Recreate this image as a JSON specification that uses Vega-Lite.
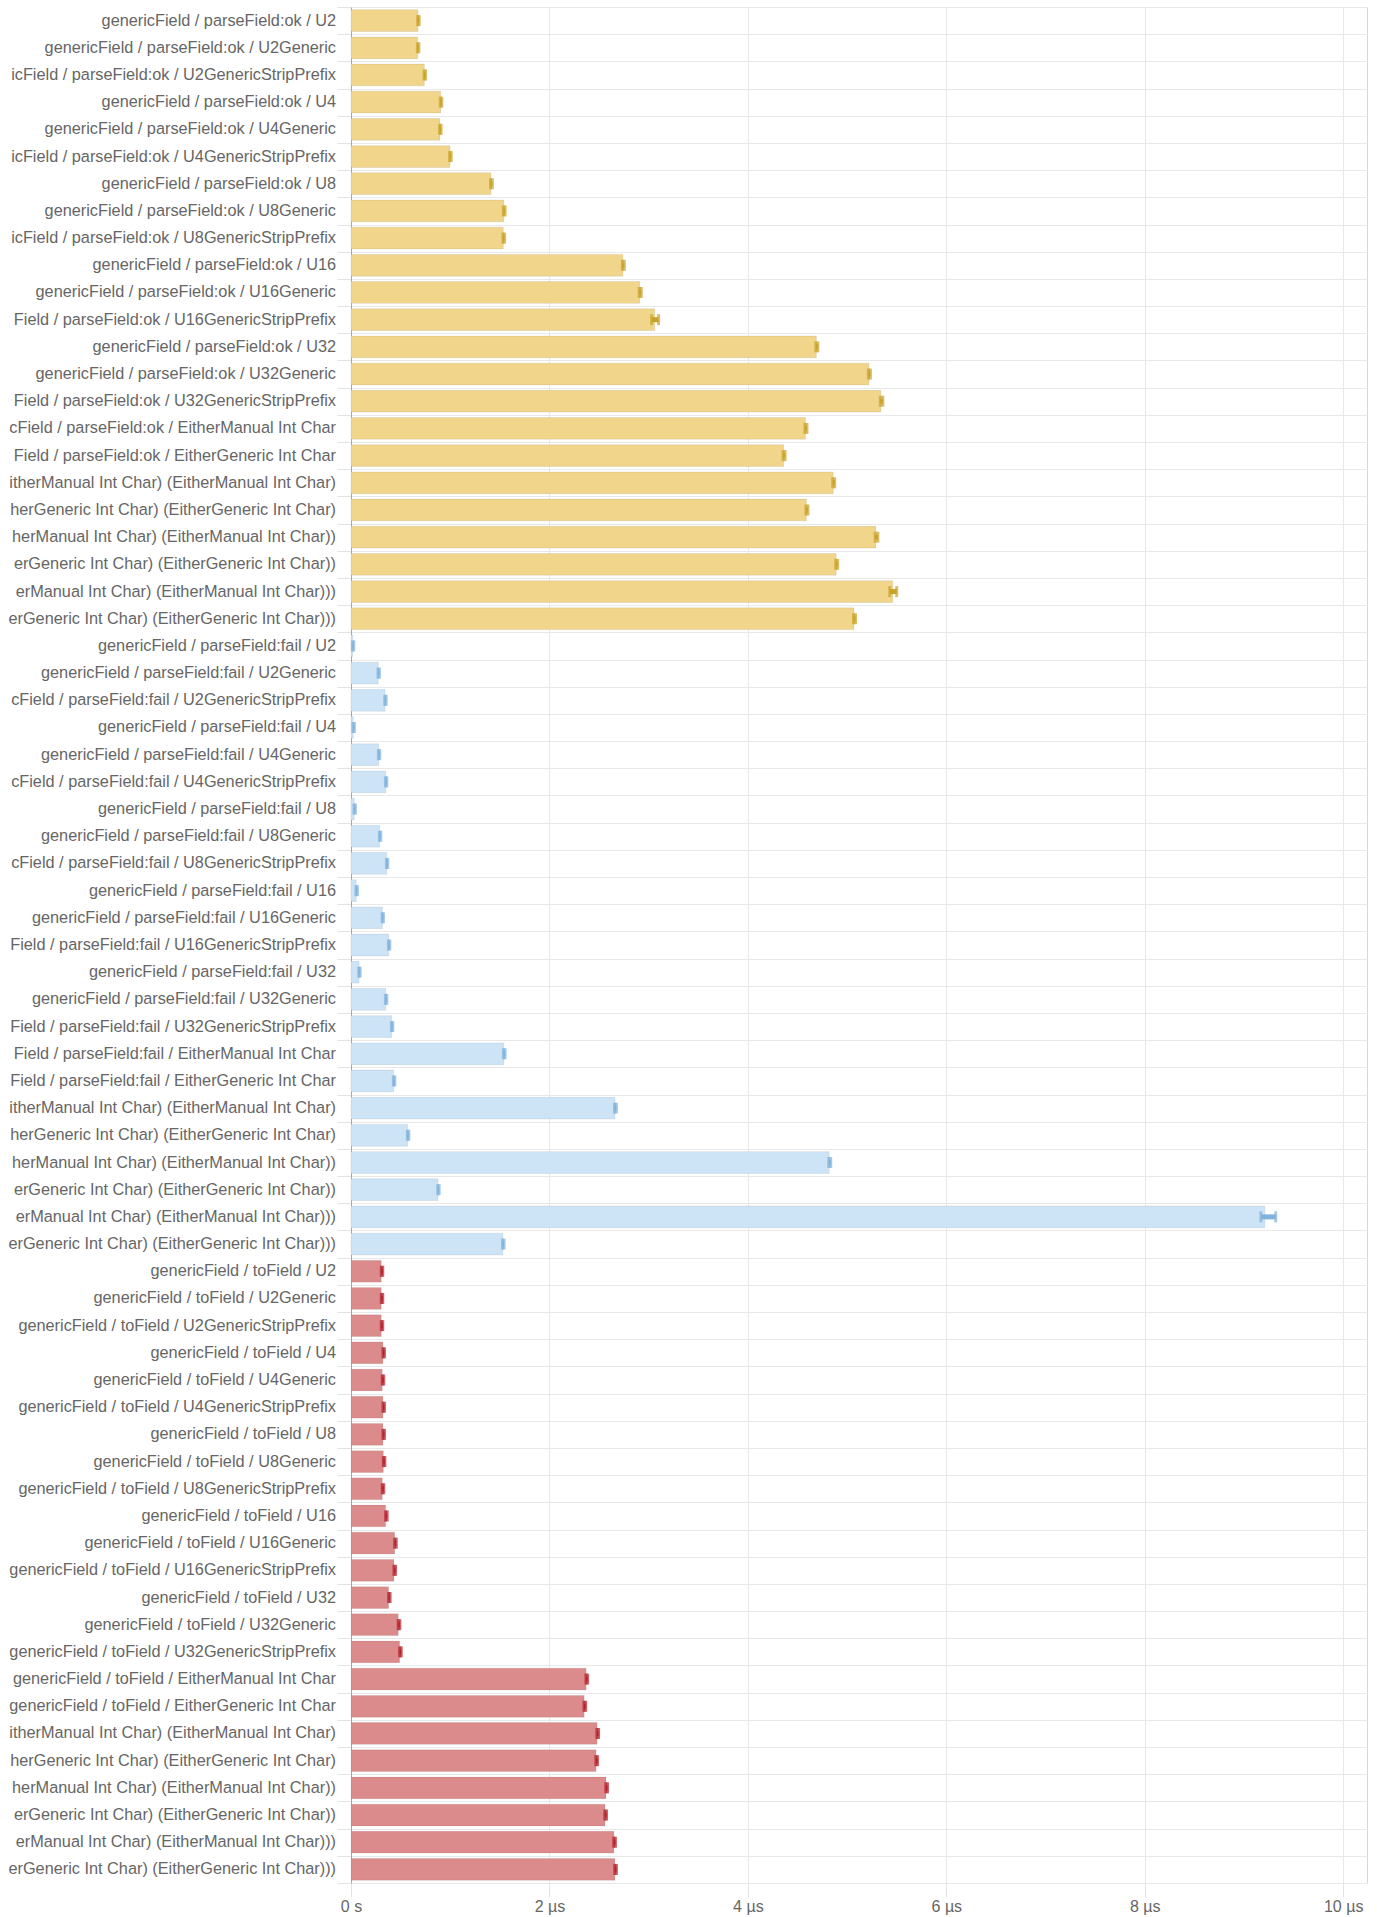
{
  "$schema": "https://vega.github.io/schema/vega-lite/v6.json",
  "width": 1016,
  "height": 1876,
  "autosize": {"type": "none"},
  "padding": {"left": 351, "top": 7, "right": 15, "bottom": 34},
  "config": {
    "view": {"stroke": "#d6d6d6"},
    "font": "Liberation Sans"
  },
  "data": {
    "values": [
      {"name": "genericField / parseField:ok / U2", "label": "genericField / parseField:ok / U2", "grp": "ok", "v": 0.675, "lo": 0.672, "hi": 0.687},
      {"name": "genericField / parseField:ok / U2Generic", "label": "genericField / parseField:ok / U2Generic", "grp": "ok", "v": 0.672, "lo": 0.669, "hi": 0.684},
      {"name": "genericField / parseField:ok / U2GenericStripPrefix", "label": "icField / parseField:ok / U2GenericStripPrefix", "grp": "ok", "v": 0.739, "lo": 0.736, "hi": 0.751},
      {"name": "genericField / parseField:ok / U4", "label": "genericField / parseField:ok / U4", "grp": "ok", "v": 0.904, "lo": 0.9, "hi": 0.915},
      {"name": "genericField / parseField:ok / U4Generic", "label": "genericField / parseField:ok / U4Generic", "grp": "ok", "v": 0.897, "lo": 0.893, "hi": 0.908},
      {"name": "genericField / parseField:ok / U4GenericStripPrefix", "label": "icField / parseField:ok / U4GenericStripPrefix", "grp": "ok", "v": 0.998, "lo": 0.994, "hi": 1.01},
      {"name": "genericField / parseField:ok / U8", "label": "genericField / parseField:ok / U8", "grp": "ok", "v": 1.41, "lo": 1.406, "hi": 1.424},
      {"name": "genericField / parseField:ok / U8Generic", "label": "genericField / parseField:ok / U8Generic", "grp": "ok", "v": 1.54, "lo": 1.536, "hi": 1.553},
      {"name": "genericField / parseField:ok / U8GenericStripPrefix", "label": "icField / parseField:ok / U8GenericStripPrefix", "grp": "ok", "v": 1.535, "lo": 1.531, "hi": 1.548},
      {"name": "genericField / parseField:ok / U16", "label": "genericField / parseField:ok / U16", "grp": "ok", "v": 2.74, "lo": 2.735, "hi": 2.755},
      {"name": "genericField / parseField:ok / U16Generic", "label": "genericField / parseField:ok / U16Generic", "grp": "ok", "v": 2.91, "lo": 2.905, "hi": 2.925},
      {"name": "genericField / parseField:ok / U16GenericStripPrefix", "label": "Field / parseField:ok / U16GenericStripPrefix", "grp": "ok", "v": 3.06, "lo": 3.03, "hi": 3.1},
      {"name": "genericField / parseField:ok / U32", "label": "genericField / parseField:ok / U32", "grp": "ok", "v": 4.69, "lo": 4.685, "hi": 4.705},
      {"name": "genericField / parseField:ok / U32Generic", "label": "genericField / parseField:ok / U32Generic", "grp": "ok", "v": 5.22, "lo": 5.215, "hi": 5.235},
      {"name": "genericField / parseField:ok / U32GenericStripPrefix", "label": "Field / parseField:ok / U32GenericStripPrefix", "grp": "ok", "v": 5.34, "lo": 5.335, "hi": 5.36},
      {"name": "genericField / parseField:ok / EitherManual Int Char", "label": "cField / parseField:ok / EitherManual Int Char", "grp": "ok", "v": 4.58, "lo": 4.575, "hi": 4.595},
      {"name": "genericField / parseField:ok / EitherGeneric Int Char", "label": "Field / parseField:ok / EitherGeneric Int Char", "grp": "ok", "v": 4.36, "lo": 4.355, "hi": 4.375},
      {"name": "genericField / parseField:ok / Either (EitherManual Int Char) (EitherManual Int Char)", "label": "itherManual Int Char) (EitherManual Int Char)", "grp": "ok", "v": 4.86, "lo": 4.855, "hi": 4.875},
      {"name": "genericField / parseField:ok / Either (EitherGeneric Int Char) (EitherGeneric Int Char)", "label": "herGeneric Int Char) (EitherGeneric Int Char)", "grp": "ok", "v": 4.59, "lo": 4.585, "hi": 4.605},
      {"name": "genericField / parseField:ok / Either (EitherManual Int Char) (Either (EitherManual Int Char) (EitherManual Int Char))", "label": "herManual Int Char) (EitherManual Int Char))", "grp": "ok", "v": 5.29, "lo": 5.283, "hi": 5.31},
      {"name": "genericField / parseField:ok / Either (EitherGeneric Int Char) (Either (EitherGeneric Int Char) (EitherGeneric Int Char))", "label": "erGeneric Int Char) (EitherGeneric Int Char))", "grp": "ok", "v": 4.89, "lo": 4.885, "hi": 4.905},
      {"name": "genericField / parseField:ok / Either (EitherManual Int Char) (Either (EitherManual Int Char) (Either (EitherManual Int Char) (EitherManual Int Char)))", "label": "erManual Int Char) (EitherManual Int Char)))", "grp": "ok", "v": 5.46, "lo": 5.43, "hi": 5.5},
      {"name": "genericField / parseField:ok / Either (EitherGeneric Int Char) (Either (EitherGeneric Int Char) (Either (EitherGeneric Int Char) (EitherGeneric Int Char)))", "label": "erGeneric Int Char) (EitherGeneric Int Char)))", "grp": "ok", "v": 5.07, "lo": 5.065, "hi": 5.085},
      {"name": "genericField / parseField:fail / U2", "label": "genericField / parseField:fail / U2", "grp": "fail", "v": 0.017, "lo": 0.014, "hi": 0.028},
      {"name": "genericField / parseField:fail / U2Generic", "label": "genericField / parseField:fail / U2Generic", "grp": "fail", "v": 0.275, "lo": 0.272, "hi": 0.286},
      {"name": "genericField / parseField:fail / U2GenericStripPrefix", "label": "cField / parseField:fail / U2GenericStripPrefix", "grp": "fail", "v": 0.343, "lo": 0.34, "hi": 0.354},
      {"name": "genericField / parseField:fail / U4", "label": "genericField / parseField:fail / U4", "grp": "fail", "v": 0.023, "lo": 0.02, "hi": 0.034},
      {"name": "genericField / parseField:fail / U4Generic", "label": "genericField / parseField:fail / U4Generic", "grp": "fail", "v": 0.279, "lo": 0.276, "hi": 0.29},
      {"name": "genericField / parseField:fail / U4GenericStripPrefix", "label": "cField / parseField:fail / U4GenericStripPrefix", "grp": "fail", "v": 0.35, "lo": 0.347, "hi": 0.361},
      {"name": "genericField / parseField:fail / U8", "label": "genericField / parseField:fail / U8", "grp": "fail", "v": 0.033, "lo": 0.03, "hi": 0.044},
      {"name": "genericField / parseField:fail / U8Generic", "label": "genericField / parseField:fail / U8Generic", "grp": "fail", "v": 0.289, "lo": 0.286, "hi": 0.3},
      {"name": "genericField / parseField:fail / U8GenericStripPrefix", "label": "cField / parseField:fail / U8GenericStripPrefix", "grp": "fail", "v": 0.36, "lo": 0.357, "hi": 0.371},
      {"name": "genericField / parseField:fail / U16", "label": "genericField / parseField:fail / U16", "grp": "fail", "v": 0.053, "lo": 0.05, "hi": 0.064},
      {"name": "genericField / parseField:fail / U16Generic", "label": "genericField / parseField:fail / U16Generic", "grp": "fail", "v": 0.316, "lo": 0.313, "hi": 0.327},
      {"name": "genericField / parseField:fail / U16GenericStripPrefix", "label": "Field / parseField:fail / U16GenericStripPrefix", "grp": "fail", "v": 0.38, "lo": 0.377, "hi": 0.391},
      {"name": "genericField / parseField:fail / U32", "label": "genericField / parseField:fail / U32", "grp": "fail", "v": 0.081, "lo": 0.078, "hi": 0.092},
      {"name": "genericField / parseField:fail / U32Generic", "label": "genericField / parseField:fail / U32Generic", "grp": "fail", "v": 0.35, "lo": 0.347, "hi": 0.361},
      {"name": "genericField / parseField:fail / U32GenericStripPrefix", "label": "Field / parseField:fail / U32GenericStripPrefix", "grp": "fail", "v": 0.41, "lo": 0.407, "hi": 0.421},
      {"name": "genericField / parseField:fail / EitherManual Int Char", "label": "Field / parseField:fail / EitherManual Int Char", "grp": "fail", "v": 1.54, "lo": 1.536, "hi": 1.553},
      {"name": "genericField / parseField:fail / EitherGeneric Int Char", "label": "Field / parseField:fail / EitherGeneric Int Char", "grp": "fail", "v": 0.43, "lo": 0.427, "hi": 0.441},
      {"name": "genericField / parseField:fail / Either (EitherManual Int Char) (EitherManual Int Char)", "label": "itherManual Int Char) (EitherManual Int Char)", "grp": "fail", "v": 2.66, "lo": 2.655, "hi": 2.675},
      {"name": "genericField / parseField:fail / Either (EitherGeneric Int Char) (EitherGeneric Int Char)", "label": "herGeneric Int Char) (EitherGeneric Int Char)", "grp": "fail", "v": 0.571, "lo": 0.568, "hi": 0.582},
      {"name": "genericField / parseField:fail / Either (EitherManual Int Char) (Either (EitherManual Int Char) (EitherManual Int Char))", "label": "herManual Int Char) (EitherManual Int Char))", "grp": "fail", "v": 4.82, "lo": 4.815, "hi": 4.835},
      {"name": "genericField / parseField:fail / Either (EitherGeneric Int Char) (Either (EitherGeneric Int Char) (EitherGeneric Int Char))", "label": "erGeneric Int Char) (EitherGeneric Int Char))", "grp": "fail", "v": 0.877, "lo": 0.874, "hi": 0.888},
      {"name": "genericField / parseField:fail / Either (EitherManual Int Char) (Either (EitherManual Int Char) (Either (EitherManual Int Char) (EitherManual Int Char)))", "label": "erManual Int Char) (EitherManual Int Char)))", "grp": "fail", "v": 9.21, "lo": 9.17, "hi": 9.32},
      {"name": "genericField / parseField:fail / Either (EitherGeneric Int Char) (Either (EitherGeneric Int Char) (Either (EitherGeneric Int Char) (EitherGeneric Int Char)))", "label": "erGeneric Int Char) (EitherGeneric Int Char)))", "grp": "fail", "v": 1.53, "lo": 1.526, "hi": 1.543},
      {"name": "genericField / toField / U2", "label": "genericField / toField / U2", "grp": "toField", "v": 0.305, "lo": 0.305, "hi": 0.32},
      {"name": "genericField / toField / U2Generic", "label": "genericField / toField / U2Generic", "grp": "toField", "v": 0.305, "lo": 0.305, "hi": 0.32},
      {"name": "genericField / toField / U2GenericStripPrefix", "label": "genericField / toField / U2GenericStripPrefix", "grp": "toField", "v": 0.305, "lo": 0.305, "hi": 0.32},
      {"name": "genericField / toField / U4", "label": "genericField / toField / U4", "grp": "toField", "v": 0.322, "lo": 0.322, "hi": 0.337},
      {"name": "genericField / toField / U4Generic", "label": "genericField / toField / U4Generic", "grp": "toField", "v": 0.315, "lo": 0.315, "hi": 0.33},
      {"name": "genericField / toField / U4GenericStripPrefix", "label": "genericField / toField / U4GenericStripPrefix", "grp": "toField", "v": 0.322, "lo": 0.322, "hi": 0.337},
      {"name": "genericField / toField / U8", "label": "genericField / toField / U8", "grp": "toField", "v": 0.322, "lo": 0.322, "hi": 0.337},
      {"name": "genericField / toField / U8Generic", "label": "genericField / toField / U8Generic", "grp": "toField", "v": 0.326, "lo": 0.326, "hi": 0.341},
      {"name": "genericField / toField / U8GenericStripPrefix", "label": "genericField / toField / U8GenericStripPrefix", "grp": "toField", "v": 0.315, "lo": 0.315, "hi": 0.33},
      {"name": "genericField / toField / U16", "label": "genericField / toField / U16", "grp": "toField", "v": 0.349, "lo": 0.349, "hi": 0.364},
      {"name": "genericField / toField / U16Generic", "label": "genericField / toField / U16Generic", "grp": "toField", "v": 0.44, "lo": 0.44, "hi": 0.456},
      {"name": "genericField / toField / U16GenericStripPrefix", "label": "genericField / toField / U16GenericStripPrefix", "grp": "toField", "v": 0.433, "lo": 0.433, "hi": 0.449},
      {"name": "genericField / toField / U32", "label": "genericField / toField / U32", "grp": "toField", "v": 0.379, "lo": 0.379, "hi": 0.394},
      {"name": "genericField / toField / U32Generic", "label": "genericField / toField / U32Generic", "grp": "toField", "v": 0.476, "lo": 0.476, "hi": 0.492},
      {"name": "genericField / toField / U32GenericStripPrefix", "label": "genericField / toField / U32GenericStripPrefix", "grp": "toField", "v": 0.49, "lo": 0.49, "hi": 0.506},
      {"name": "genericField / toField / EitherManual Int Char", "label": "genericField / toField / EitherManual Int Char", "grp": "toField", "v": 2.37, "lo": 2.368, "hi": 2.385},
      {"name": "genericField / toField / EitherGeneric Int Char", "label": "genericField / toField / EitherGeneric Int Char", "grp": "toField", "v": 2.35, "lo": 2.348, "hi": 2.365},
      {"name": "genericField / toField / Either (EitherManual Int Char) (EitherManual Int Char)", "label": "itherManual Int Char) (EitherManual Int Char)", "grp": "toField", "v": 2.48, "lo": 2.478, "hi": 2.495},
      {"name": "genericField / toField / Either (EitherGeneric Int Char) (EitherGeneric Int Char)", "label": "herGeneric Int Char) (EitherGeneric Int Char)", "grp": "toField", "v": 2.47, "lo": 2.468, "hi": 2.485},
      {"name": "genericField / toField / Either (EitherManual Int Char) (Either (EitherManual Int Char) (EitherManual Int Char))", "label": "herManual Int Char) (EitherManual Int Char))", "grp": "toField", "v": 2.57, "lo": 2.568, "hi": 2.585},
      {"name": "genericField / toField / Either (EitherGeneric Int Char) (Either (EitherGeneric Int Char) (EitherGeneric Int Char))", "label": "erGeneric Int Char) (EitherGeneric Int Char))", "grp": "toField", "v": 2.56, "lo": 2.558, "hi": 2.575},
      {"name": "genericField / toField / Either (EitherManual Int Char) (Either (EitherManual Int Char) (Either (EitherManual Int Char) (EitherManual Int Char)))", "label": "erManual Int Char) (EitherManual Int Char)))", "grp": "toField", "v": 2.65, "lo": 2.648, "hi": 2.665},
      {"name": "genericField / toField / Either (EitherGeneric Int Char) (Either (EitherGeneric Int Char) (Either (EitherGeneric Int Char) (EitherGeneric Int Char)))", "label": "erGeneric Int Char) (EitherGeneric Int Char)))", "grp": "toField", "v": 2.66, "lo": 2.658, "hi": 2.675}
    ]
  },
  "encoding": {
    "y": {
      "field": "name",
      "type": "nominal",
      "sort": null,
      "title": null,
      "scale": {"paddingInner": 0, "paddingOuter": 0},
      "axis": {
        "orient": "left",
        "labels": false,
        "ticks": true,
        "tickBand": "extent",
        "tickSize": 14,
        "tickColor": "#e3e3e3",
        "grid": true,
        "gridColor": "#e8e8e8",
        "domain": true,
        "domainColor": "#a8a8a8"
      }
    }
  },
  "layer": [
    {
      "mark": {"type": "bar", "height": {"band": 0.8}, "stroke": "#000000", "strokeOpacity": 0.07, "strokeWidth": 1},
      "encoding": {
        "x": {
          "field": "v",
          "type": "quantitative",
          "title": null,
          "scale": {"domain": [0, 10.24], "nice": false, "zero": true},
          "axis": {
            "values": [0, 2, 4, 6, 8, 10],
            "labelExpr": "datum.value === 0 ? '0 s' : datum.value + ' µs'",
            "labelFont": "Liberation Sans",
            "labelFontSize": 16,
            "labelColor": "#666666",
            "labelPadding": 1,
            "labelFlush": false,
            "tickSize": 14,
            "tickColor": "#e3e3e3",
            "grid": true,
            "gridColor": "#e8e8e8",
            "domain": false
          }
        },
        "fill": {
          "field": "grp",
          "type": "nominal",
          "legend": null,
          "scale": {"domain": ["ok", "fail", "toField"], "range": ["#f0d58a", "#cde4f7", "#dc8b8c"]}
        }
      }
    },
    {
      "mark": {"type": "rule", "strokeWidth": 5},
      "encoding": {
        "x": {"field": "lo", "type": "quantitative"},
        "x2": {"field": "hi"},
        "color": {
          "field": "grp",
          "type": "nominal",
          "legend": null,
          "scale": {"domain": ["ok", "fail", "toField"], "range": ["#c9a229", "#7fb2dd", "#b3222c"]}
        }
      }
    },
    {
      "mark": {"type": "tick", "size": 11, "thickness": 3},
      "encoding": {
        "x": {"field": "lo", "type": "quantitative"},
        "color": {"field": "grp", "type": "nominal", "legend": null}
      }
    },
    {
      "mark": {"type": "tick", "size": 11, "thickness": 3},
      "encoding": {
        "x": {"field": "hi", "type": "quantitative"},
        "color": {"field": "grp", "type": "nominal", "legend": null}
      }
    },
    {
      "mark": {"type": "text", "align": "right", "baseline": "middle", "dx": -15, "font": "Liberation Sans", "fontSize": 16.3, "color": "#666666", "clip": false},
      "encoding": {
        "x": {"datum": 0, "type": "quantitative"},
        "text": {"field": "label", "type": "nominal"}
      }
    }
  ]
}
